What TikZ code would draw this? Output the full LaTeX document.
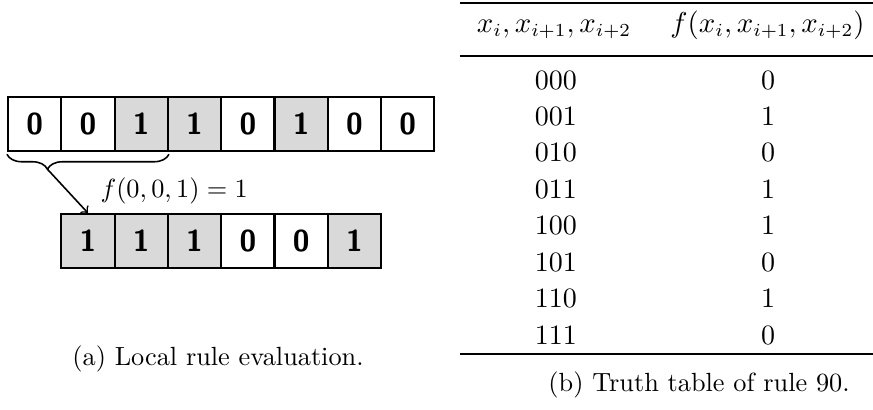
\documentclass[tikz,border=0pt]{standalone}
\usepackage{amssymb}
\usepackage{tikz}
\usetikzlibrary{%
  arrows,%
  decorations.pathreplacing,% wg. brace
  positioning,%
  calc%
}

\begin{document}
\begin{tikzpicture}[
  >=to,
  bit0/.style={rectangle, minimum height=7.2mm, minimum width=7.124mm, inner sep=0pt, draw=black, line width=0.8pt, fill=white, font=\fontsize{11.5}{13}\selectfont\sffamily\bfseries},
  bit1/.style={bit0, fill=black!15},
  tabentry/.style={anchor=base, inner sep=0pt, font=\fontsize{10.65}{13}\selectfont},
  tabrule/.style={line width=0.8pt},
  tabmidrule/.style={line width=0.5pt}
]
\useasboundingbox (0,0) rectangle (11.668,5.467);

\node[bit0] (c0) at (0.463,3.809) {0};
\node[bit0] (c1) at (1.175,3.809) {0};
\node[bit1] (c2) at (1.888,3.809) {1};
\node[bit1] (c3) at (2.600,3.809) {1};
\node[bit0] (c4) at (3.313,3.809) {0};
\node[bit1] (c5) at (4.025,3.809) {1};
\node[bit0] (c6) at (4.737,3.809) {0};
\node[bit0] (c7) at (5.450,3.809) {0};

\node[bit1] (n1) at (1.175,2.246) {1};
\node[bit1] (n2) at (1.888,2.246) {1};
\node[bit1] (n3) at (2.600,2.246) {1};
\node[bit0] (n4) at (3.313,2.246) {0};
\node[bit0] (n5) at (4.025,2.246) {0};
\node[bit1] (n6) at (4.737,2.246) {1};

\draw[decorate, decoration={brace, mirror, amplitude=2mm, aspect=0.25, raise=0.3mm}, line width=0.6pt]
  (c0.south west) -- (c2.south east);
\coordinate (tip) at ($(c0.south west)!0.25!(c2.south east)+(0,-2.3mm)$);
\draw[->, line width=0.6pt] (tip) -- (n1.north);
\node[anchor=base west, inner sep=0pt] (eval) at (1.337,2.827) {$f(0,0,1)=1$};

\node[anchor=base] (capa) at (2.914,0.588) {(a) Local rule evaluation.};

\draw[tabrule] (6.148,5.427) -- (11.668,5.427);
\node[tabentry] (h1) at (7.405,5.039) {$x_i, x_{i+1}, x_{i+2}$};
\node[tabentry] (h2) at (10.258,5.039) {$f(x_i, x_{i+1}, x_{i+2})$};
\draw[tabmidrule] (6.148,4.718) -- (11.668,4.718);
\node[tabentry] (r0) at (7.431,4.277) {000};
\node[tabentry] (v0) at (10.265,4.277) {0};
\node[tabentry] (r1) at (7.431,3.790) {001};
\node[tabentry] (v1) at (10.265,3.790) {1};
\node[tabentry] (r2) at (7.431,3.303) {010};
\node[tabentry] (v2) at (10.265,3.303) {0};
\node[tabentry] (r3) at (7.431,2.816) {011};
\node[tabentry] (v3) at (10.265,2.816) {1};
\node[tabentry] (r4) at (7.431,2.329) {100};
\node[tabentry] (v4) at (10.265,2.329) {1};
\node[tabentry] (r5) at (7.431,1.843) {101};
\node[tabentry] (v5) at (10.265,1.843) {0};
\node[tabentry] (r6) at (7.431,1.356) {110};
\node[tabentry] (v6) at (10.265,1.356) {1};
\node[tabentry] (r7) at (7.431,0.869) {111};
\node[tabentry] (v7) at (10.265,0.869) {0};
\draw[tabrule] (6.148,0.735) -- (11.668,0.735);

\node[anchor=base] (capb) at (9.343,0.231) {(b) Truth table of rule 90.};
\end{tikzpicture}
\end{document}
